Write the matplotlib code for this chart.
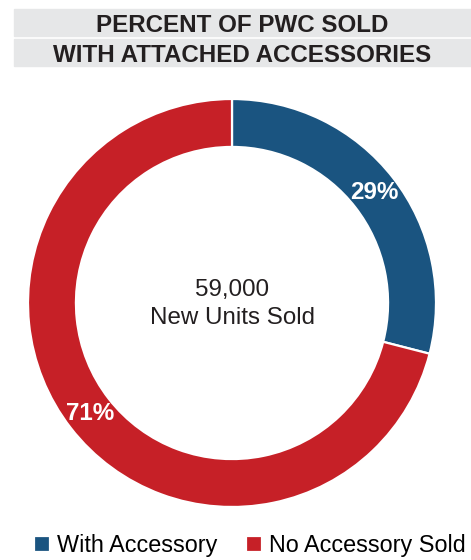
import matplotlib
matplotlib.use("Agg")
import matplotlib.pyplot as plt
from matplotlib.patches import Rectangle

# Share of PWC units sold with / without an accessory (percent)
categories = ["With Accessory", "No Accessory Sold"]
shares = [29, 71]
colors = ["#1a5480", "#c62027"]
total_units = 59000
title_lines = ["PERCENT OF PWC SOLD", "WITH ATTACHED ACCESSORIES"]

plt.rcParams["font.family"] = ["Liberation Sans", "DejaVu Sans"]

W, H = 471, 560
fig = plt.figure(figsize=(W / 100, H / 100), dpi=100)

# Title banner: two grey bars with bold caps
for (top, bottom), baseline, line in zip([(9, 36), (39, 66)], [32, 62], title_lines):
    fig.patches.append(Rectangle((14 / W, 1 - bottom / H), (W - 14) / W, (bottom - top) / H,
                                 transform=fig.transFigure, color="#e6e7e8", zorder=0))
    fig.text(242.5 / W, 1 - baseline / H, line, ha="center", va="baseline",
             fontsize=17.4, fontweight="bold", color="#231f20")

# Donut: centre at (232, 303) px, outer radius 204 px
cx, cy, r = 232, 303, 204
pad = 1.01
ax = fig.add_axes([(cx - r * pad) / W, (H - cy - r * pad) / H, 2 * r * pad / W, 2 * r * pad / H])
wedges, texts, autotexts = ax.pie(
    shares, colors=colors, startangle=90, counterclock=False, radius=1,
    autopct="%d%%", pctdistance=0.88,
    wedgeprops=dict(width=0.235, edgecolor="white", linewidth=1.6),
    textprops=dict(color="white", fontsize=17.4, fontweight="bold"))
ax.set_xlim(-pad, pad)
ax.set_ylim(-pad, pad)
ax.set_aspect("equal")
ax.axis("off")

ax.text(0, (cy - 296) / r, f"{total_units:,}", ha="center", va="baseline",
        fontsize=17.4, color="#231f20")
ax.text(0, (cy - 324) / r, "New Units Sold", ha="center", va="baseline",
        fontsize=17.4, color="#231f20")

fig.legend(wedges, categories, loc="lower left", bbox_to_anchor=(27 / W, -4 / H),
           ncol=2, frameon=False, fontsize=16.8, handlelength=0.7, handleheight=0.7,
           handletextpad=0.3, columnspacing=1.2, borderaxespad=0, borderpad=0.3)

fig.savefig("out.png", dpi=100)
